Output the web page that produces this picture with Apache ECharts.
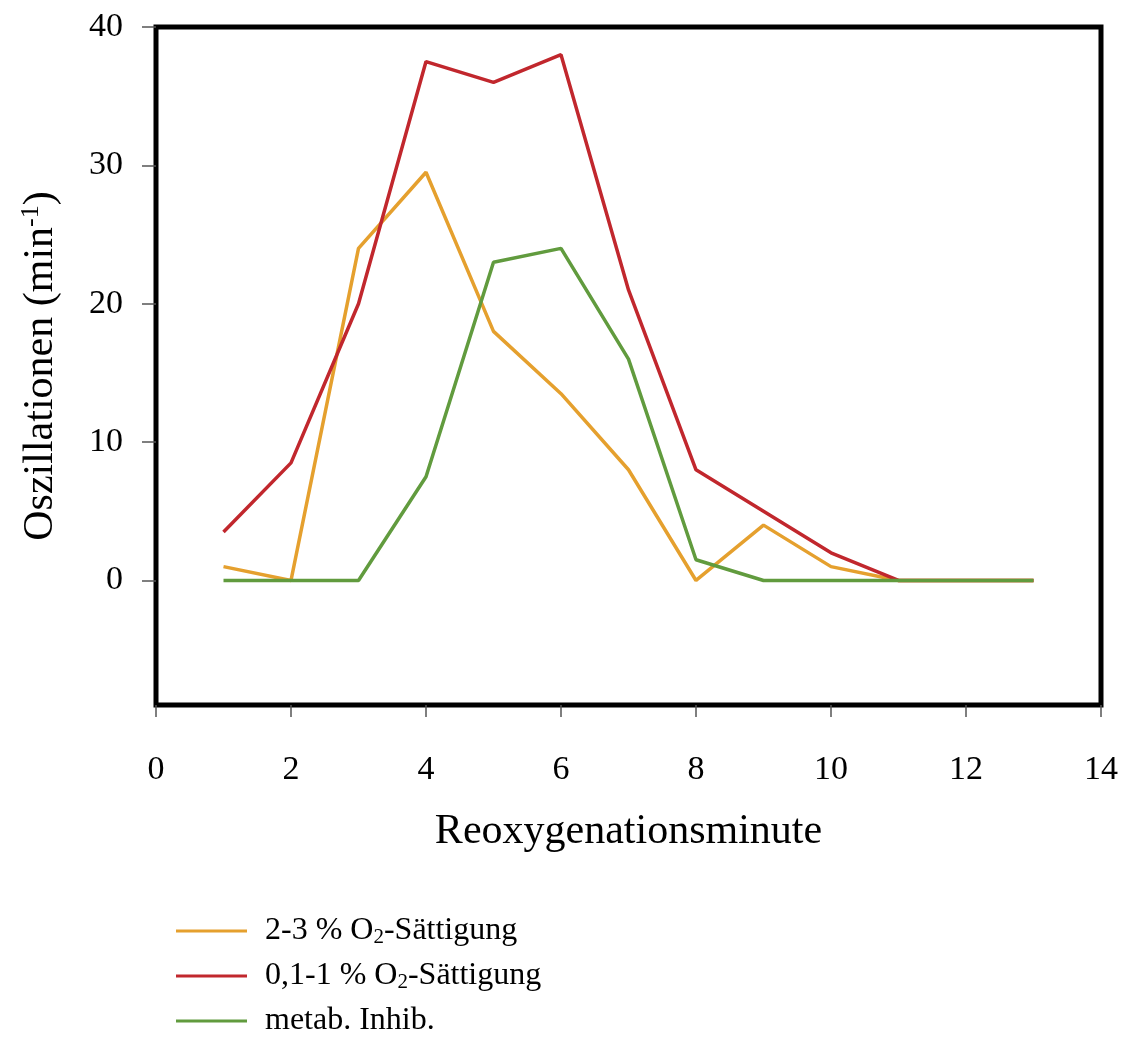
<!DOCTYPE html>
<html>
<head>
<meta charset="utf-8">
<script src="https://cdn.jsdelivr.net/npm/echarts@6/dist/echarts.min.js"></script>
<style>
html,body{margin:0;padding:0;background:#fff;}
#main{width:1126px;height:1038px;}
</style>
</head>
<body>
<div id="main"></div>
<script>
// Reoxygenationsminute
var minutes = [1, 2, 3, 4, 5, 6, 7, 8, 9, 10, 11, 12, 13];
var sat23 = [1, 0, 24, 29.5, 18, 13.5, 8, 0, 4, 1, 0, 0, 0];
var sat01 = [3.5, 8.5, 20, 37.5, 36, 38, 21, 8, 5, 2, 0, 0, 0];
var inhib = [0, 0, 0, 7.5, 23, 24, 16, 1.5, 0, 0, 0, 0, 0];
var yTicks = [0, 10, 20, 30, 40];
var names = ['2-3 % O2-Sättigung', '0,1-1 % O2-Sättigung', 'metab. Inhib.'];
var legendLabels = {
    '2-3 % O2-Sättigung': '2-3 % O{sub|2}-Sättigung',
    '0,1-1 % O2-Sättigung': '0,1-1 % O{sub|2}-Sättigung',
    'metab. Inhib.': 'metab. Inhib.'
};

function pairs(ys){
    var out = [];
    for (var i = 0; i < minutes.length; i++) out.push([minutes[i], ys[i]]);
    return out;
}

var font = 'Liberation Serif';
var myChart = echarts.init(document.getElementById('main'));
var option = {
    animation: false,
    textStyle: { fontFamily: font },
    grid: {
        left: 156, top: 27, right: 25, bottom: 333,
        show: true, borderColor: '#000', borderWidth: 5, backgroundColor: '#fff'
    },
    legend: {
        orient: 'vertical',
        left: 176, top: 914, height: 124,
        padding: 0,
        icon: 'rect',
        itemWidth: 71, itemHeight: 3,
        itemGap: 11,
        data: names,
        formatter: function(n){ return legendLabels[n]; },
        textStyle: {
            fontFamily: font, fontSize: 32, lineHeight: 34, color: '#000', padding: [0, 0, 0, 13],
            rich: {
                sub: { fontFamily: font, fontSize: 21, lineHeight: 34, verticalAlign: 'bottom', padding: [12, 0, 0, 0] }
            }
        }
    },
    xAxis: {
        type: 'value', min: 0, max: 14, interval: 2,
        name: 'Reoxygenationsminute',
        nameLocation: 'middle', nameGap: 106,
        nameTextStyle: { fontFamily: font, fontSize: 42, color: '#000' },
        axisLine: { show: false, onZero: false },
        axisTick: { show: true, length: 12, lineStyle: { color: '#555', width: 1.5 } },
        axisLabel: { margin: 48, fontFamily: font, fontSize: 34, color: '#000' },
        splitLine: { show: false }
    },
    yAxis: {
        type: 'value', min: -9, max: 40,
        name: 'Oszillationen (min{sup|-1})',
        nameLocation: 'middle', nameGap: 92,
        nameTextStyle: {
            fontFamily: font, fontSize: 42, color: '#000',
            rich: { sup: { fontFamily: font, fontSize: 26, verticalAlign: 'top', padding: [0, 0, 20, 0] } }
        },
        axisLine: { show: false, onZero: false },
        axisTick: { show: true, length: 14, customValues: yTicks, lineStyle: { color: '#555', width: 1.5 } },
        axisLabel: { margin: 33, customValues: yTicks, fontFamily: font, fontSize: 34, color: '#000' },
        splitLine: { show: false }
    },
    series: [
        { name: names[0], type: 'line', data: pairs(sat23), symbol: 'none', color: '#E5A02E', lineStyle: { width: 3.5 } },
        { name: names[1], type: 'line', data: pairs(sat01), symbol: 'none', color: '#C1272D', lineStyle: { width: 3.5 } },
        { name: names[2], type: 'line', data: pairs(inhib), symbol: 'none', color: '#619B3E', lineStyle: { width: 3.5 } }
    ]
};
myChart.setOption(option);
</script>
</body>
</html>
